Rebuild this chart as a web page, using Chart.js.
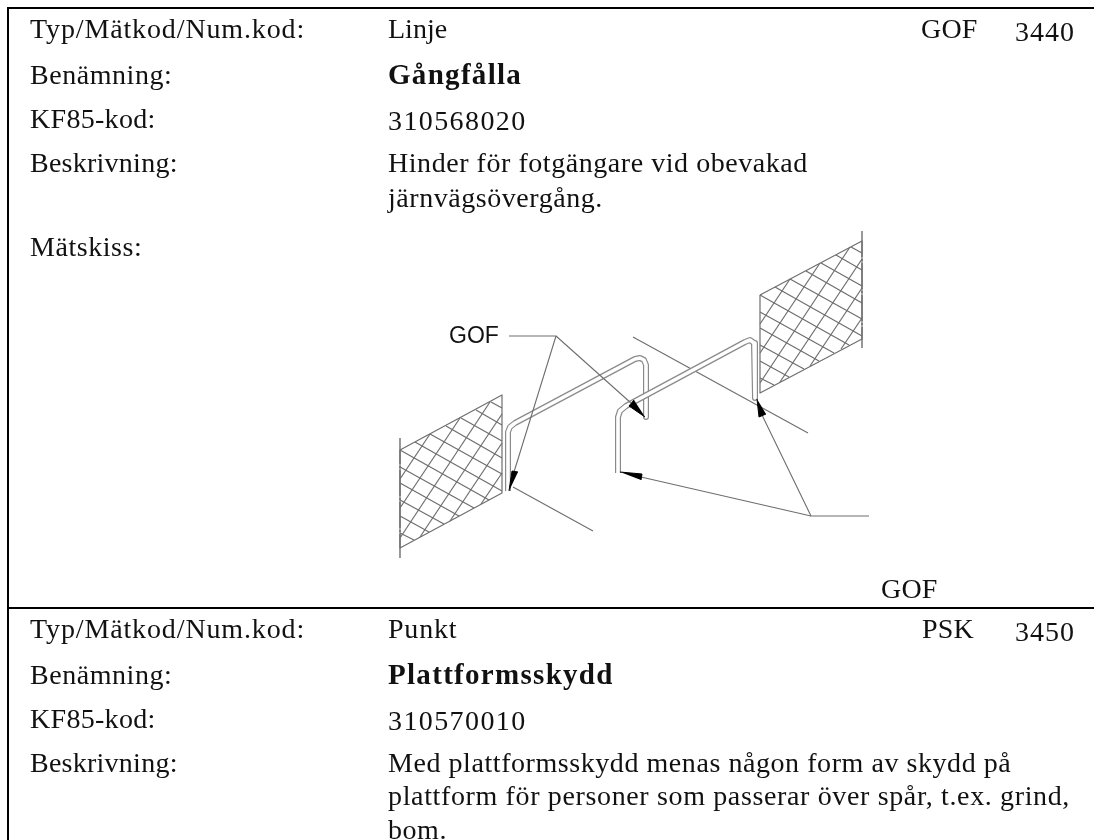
<!DOCTYPE html>
<html>
<head>
<meta charset="utf-8">
<title>Gångfålla / Plattformsskydd</title>
<script src="https://cdn.jsdelivr.net/npm/chart.js@4"></script>
<style>
    html, body { margin: 0; padding: 0; background: #fff; overflow: hidden; }
    #wrap { width: 1094px; height: 840px; }
</style>
</head>
<body>
<div id="wrap"><canvas id="sheet"></canvas></div>
<script>
// page text: [x, baseline y, text, bold, letter spacing]
const serifTexts = [
    [30, 38, 'Typ/Mätkod/Num.kod:', false, 0.87], [388, 38, 'Linje', false, 0], [921, 38, 'GOF', false, 0.2], [1015, 41, '3440', false, 1],
    [30, 84, 'Benämning:'], [388, 84, 'Gångfålla', true, 1.3],
    [30, 128, 'KF85-kod:', false, 0.3], [388, 130, '310568020', false, 1.4],
    [30, 172, 'Beskrivning:', false, 0.25], [388, 172, 'Hinder för fotgängare vid obevakad'],
    [388, 207, 'järnvägsövergång.'],
    [30, 256, 'Mätskiss:'],
    [881, 598, 'GOF', false, 0.2],
    [30, 638, 'Typ/Mätkod/Num.kod:', false, 0.87], [388, 638, 'Punkt', false, 0.8], [922, 638, 'PSK', false, 0.2], [1015, 641, '3450', false, 1],
    [30, 684, 'Benämning:'], [388, 684, 'Plattformsskydd', true, 1.3],
    [30, 728, 'KF85-kod:', false, 0.3], [388, 730, '310570010', false, 1.4],
    [30, 772, 'Beskrivning:', false, 0.25], [388, 772, 'Med plattformsskydd menas någon form av skydd på', false, 0.56],
    [388, 805, 'plattform för personer som passerar över spår, t.ex. grind,', false, 0.64],
    [388, 839, 'bom.']
];
const sketchLabel = [449, 343, 'GOF'];

// table rules
const frameTop = [[7, 8], [1094, 8]];
const frameLeft = [[8, 8], [8, 840]];
const frameMid = [[8, 608], [1094, 608]];

// hatched walls, each segment x1, y1, x2, y2
const wallRightEdge = [[760, 295], [862, 241], [862, 339], [760, 393], [760, 295]];
const wallRightPost = [[862, 231], [862, 348]];
const wallRightHatch = [
    [760, 378, 774, 385], [760, 361, 789, 377], [760, 345, 804, 369], [760, 328, 819, 361],
    [760, 312, 834, 353], [760, 295, 849, 345], [775, 287, 862, 336], [790, 279, 862, 319],
    [806, 271, 862, 303], [821, 263, 862, 286], [836, 255, 862, 270], [851, 247, 862, 253],
    [760, 324, 790, 279], [760, 353, 820, 263], [760, 383, 850, 247],
    [780, 382, 862, 259], [810, 366, 862, 288], [841, 349, 862, 318]
];
const wallLeftEdge = [[400, 450], [502, 395], [502, 493], [400, 548], [400, 450]];
const wallLeftPost = [[400, 438], [400, 558]];
const wallLeftHatch = [
    [400, 533, 414, 540], [400, 516, 429, 532], [400, 500, 444, 524], [400, 483, 459, 516],
    [400, 467, 474, 508], [400, 450, 489, 500], [415, 442, 502, 491], [430, 434, 502, 474],
    [446, 426, 502, 458], [461, 418, 502, 441], [476, 410, 502, 425], [491, 402, 502, 408],
    [400, 479, 430, 434], [400, 508, 460, 418], [400, 538, 490, 402],
    [420, 537, 502, 414], [450, 521, 502, 443], [481, 504, 502, 473]
];

// gate rails
const railLeft = [[508, 491], [508, 432], [510, 427], [515, 423], [635, 359], [640, 358], [644, 360], [646, 365], [646, 417]];
const railRight = [[618, 473], [618, 417], [620, 411], [626, 406], [745, 342], [750, 340], [754, 343], [755, 348], [755, 398]];

// thin lines behind the rails
const groundLeft = [[513, 487], [593, 531]];
const groundMid = [[633, 337], [808, 433]];

// leaders and arrow heads
const leaderTop = [[509, 336], [556, 336], [514, 472]];
const leaderTop2 = [[556, 336], [631, 403]];
const leaderBottom = [[869, 516], [811, 516], [762, 415]];
const leaderBottom2 = [[811, 516], [641, 477]];
const arrowHeads = [
    [[509, 491], [512, 471], [518, 472]],
    [[645, 417], [629, 406], [634, 400]],
    [[757, 399], [759, 417], [766, 414]],
    [[620, 472], [642, 474], [641, 480]]
];

const toPoints = list => list.map(p => ({ x: p[0], y: p[1] }));
const line = (pts, color, width, dash) => ({
    data: toPoints(pts),
    showLine: true,
    borderColor: color,
    borderWidth: width,
    borderDash: dash || [],
    pointRadius: 0,
    fill: false,
    tension: 0,
    borderJoinStyle: 'round'
});

function hatchSets(list, color, width) {
    return list.map(s => line([[s[0], s[1]], [s[2], s[3]]], color, width));
}

const ink = '#6e6e6e';
const postDash = [26, 2, 2, 2];
// listed bottom layer first, reversed below since Chart.js paints dataset 0 last
const layers = [
    ...hatchSets(wallRightHatch, ink, 1.2), line(wallRightEdge, ink, 1.2), line(wallRightPost, ink, 1.4, postDash),
    ...hatchSets(wallLeftHatch, ink, 1.2), line(wallLeftEdge, ink, 1.2), line(wallLeftPost, ink, 1.4, postDash),
    line(groundLeft, ink, 1.1), line(groundMid, ink, 1.1),
    line(railLeft, '#8a8a8a', 6), line(railLeft, '#ffffff', 3.6),
    line(railRight, '#8a8a8a', 6), line(railRight, '#ffffff', 3.6),
    line(leaderTop, ink, 1.1), line(leaderTop2, ink, 1.1), line(leaderBottom, ink, 1.1), line(leaderBottom2, ink, 1.1),
    ...arrowHeads.map(a => Object.assign(line(a, '#000000', 1), { fill: 'shape', backgroundColor: '#000000' })),
    line(frameTop, '#000000', 2), line(frameLeft, '#000000', 2), line(frameMid, '#000000', 2)
];
const datasets = layers.reverse();

// draws the sheet text at scale positions
const sheetText = {
    id: 'sheetText',
    afterDatasetsDraw(chart) {
        const { ctx, scales } = chart;
        ctx.save();
        ctx.fillStyle = '#111111';
        ctx.textBaseline = 'alphabetic';
        serifTexts.forEach(t => {
            ctx.letterSpacing = (t[4] === undefined ? 0.55 : t[4]) + 'px';
            ctx.font = t[3] ? 'bold 29px "Liberation Serif"' : '28px "Liberation Serif"';
            ctx.fillText(t[2], scales.x.getPixelForValue(t[0]), scales.y.getPixelForValue(t[1]));
        });
        ctx.letterSpacing = '0px';
        ctx.font = '23px "Liberation Sans"';
        ctx.fillText(sketchLabel[2], scales.x.getPixelForValue(sketchLabel[0]), scales.y.getPixelForValue(sketchLabel[1]));
        ctx.restore();
    }
};

new Chart(document.getElementById('sheet'), {
    type: 'scatter',
    data: { datasets },
    plugins: [sheetText],
    options: {
        responsive: true,
        maintainAspectRatio: false,
        animation: false,
        layout: { padding: 0 },
        plugins: { legend: { display: false }, tooltip: { enabled: false } },
        scales: {
            x: { type: 'linear', min: 0, max: 1094, display: false },
            y: { type: 'linear', min: 0, max: 840, reverse: true, display: false }
        }
    }
});
</script>
</body>
</html>
